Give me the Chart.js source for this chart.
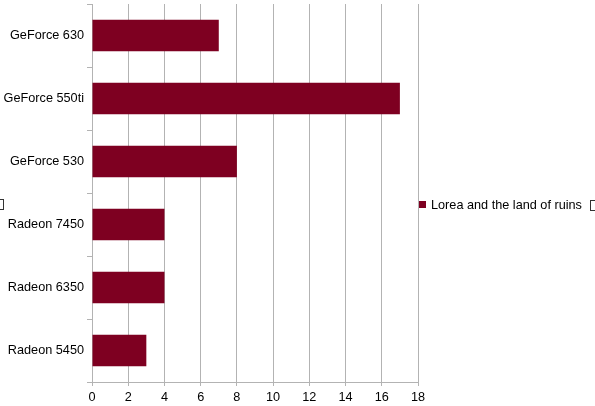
<!DOCTYPE html>
<html><head><meta charset="utf-8">
<script src="https://cdn.jsdelivr.net/npm/chart.js@4/dist/chart.umd.min.js"></script>
<style>html,body{margin:0;padding:0;background:#fff;}#wrap{width:595px;height:406px;}</style>
</head><body><div id="wrap"><canvas id="c" width="595" height="406"></canvas></div>
<script>
const categories = ["GeForce 630", "GeForce 550ti", "GeForce 530", "Radeon 7450", "Radeon 6350", "Radeon 5450"];
const seriesName = "Lorea and the land of ruins";
const seriesValues = [7, 17, 8, 4, 4, 3];
const xTicks = [0, 2, 4, 6, 8, 10, 12, 14, 16, 18];
const barColor = '#7e0021';

const sideLegend = {
  id: 'sideLegend',
  afterDraw(chart) {
    const ctx = chart.ctx;
    ctx.save();
    const ds = chart.data.datasets[0];
    ctx.fillStyle = ds.backgroundColor;
    ctx.fillRect(419, 201, 7, 7);
    ctx.fillStyle = '#000';
    ctx.font = '12.7px "Liberation Sans"';
    ctx.textBaseline = 'middle';
    ctx.fillText(ds.label, 431, 205);
    ctx.strokeStyle = '#333';
    ctx.lineWidth = 1;
    ctx.strokeRect(-1.5, 199.5, 5, 10);
    ctx.strokeRect(590.5, 200.5, 8, 10);
    ctx.restore();
  }
};

new Chart(document.getElementById('c'), {
  type: 'bar',
  data: {
    labels: categories,
    datasets: [{
      label: seriesName,
      data: seriesValues,
      backgroundColor: barColor,
      borderWidth: 0,
      categoryPercentage: 1,
      barPercentage: 0.5
    }]
  },
  options: {
    indexAxis: 'y',
    responsive: false,
    animation: false,
    layout: { padding: { top: 4, right: 177, left: 0, bottom: 0 } },
    plugins: {
      legend: { display: false },
      tooltip: { enabled: false }
    },
    scales: {
      x: {
        min: 0, max: 18,
        afterBuildTicks(s) { s.ticks = xTicks.map(v => ({ value: v })); },
        afterFit(s) { s.height = 24; s.paddingLeft = 0; s.paddingRight = 0; },
        grid: { color: '#b3b3b3', tickLength: 4 },
        border: { color: '#b3b3b3' },
        ticks: { color: '#000', padding: 4, font: { family: 'Liberation Sans', size: 12.7 }, maxRotation: 0 }
      },
      y: {
        afterFit(s) { s.width = 92; s.paddingTop = 0; s.paddingBottom = 0; },
        grid: { offset: true, drawOnChartArea: false, color: '#b3b3b3', tickLength: 5 },
        border: { color: '#b3b3b3' },
        ticks: { color: '#000', padding: 3, font: { family: 'Liberation Sans', size: 12.7 } }
      }
    }
  },
  plugins: [sideLegend]
});
</script></body></html>
